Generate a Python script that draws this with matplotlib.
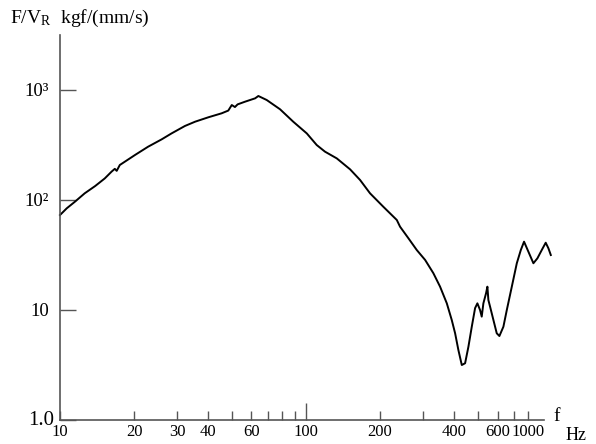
"""Mechanical impedance curve F/V_R vs frequency, log-log."""

import matplotlib

matplotlib.use("Agg")
import matplotlib.pyplot as plt
from matplotlib.ticker import FixedLocator, FixedFormatter, NullFormatter
from matplotlib.transforms import ScaledTranslation

plt.rcParams["font.family"] = ["Liberation Serif", "DejaVu Serif"]
plt.rcParams["mathtext.fontset"] = "stix"

# frequency (Hz) and impedance (kgf/(mm/s))
freq = [10, 10.65, 11.5, 12.6, 13.9, 15.2, 16.2, 16.7, 17.0, 17.5, 20.2, 22.8,
        25.9, 28.4, 32.2, 35.4, 40.1, 45.4, 48.3, 49.9, 51.4, 52.7, 56.5, 62.1,
        64, 69.2, 78.4, 88.7, 100.7, 110.5, 119.4, 133.3, 151, 165.8, 182, 206,
        233.8, 241, 260.6, 281.8, 304.8, 329.2, 350.5, 373.3, 391, 403.5, 416,
        429.5, 443, 457, 471.6, 486.4, 497, 509.5, 517.6, 525.7, 539, 545.8,
        550.9, 559.8, 577.4, 595.7, 610.7, 634, 654.5, 685.9, 718.7, 746.2,
        769.1, 801, 839.5, 871.5, 907.8, 942, 966, 988]
impedance = [73, 84, 96.5, 115, 134, 157, 181, 192, 184, 208, 257, 305,
             356, 403, 471, 515, 565, 614, 650, 730, 700, 740, 783, 840,
             882, 811, 668, 515, 403, 316, 275, 239, 190, 152, 115, 86.9,
             65.8, 57.2, 44.9, 35.1, 28.5, 21.6, 16.3, 11.5, 8.11, 6.14, 4.33,
             3.16, 3.28, 4.64, 7.05, 10.4, 11.5, 10, 8.7, 11.5, 14.2, 16.3,
             12.3, 10.7, 8.11, 6.14, 5.8, 7.05, 10, 16.3, 26.6, 35.1,
             41.8, 33.9, 26.6, 29.5, 35.1, 40.9, 36.4, 31.6]

x_major = [10, 20, 30, 40, 60, 100, 200, 400, 600, 800]
x_labels = ["10", "20", "30", "40", "60", "100", "200", "400", "600", "1000"]
x_minor = [50, 70, 80, 90, 300, 500, 700]
y_major = [1, 10, 100, 1000]
y_labels = ["1.0", "10", "10²", "10³"]

fig = plt.figure(figsize=(5.96, 4.44), dpi=100)
ax = fig.add_axes([60 / 596, 24 / 444, 484 / 596, 385 / 444])

ax.plot(freq, impedance, color="black", lw=1.4, clip_on=False)

ax.set_xscale("log")
ax.set_yscale("log")
ax.set_xlim(10, 927)
ax.set_ylim(1, 3162)

for side in ("top", "right"):
    ax.spines[side].set_visible(False)
for side in ("left", "bottom"):
    ax.spines[side].set_color("#555555")
    ax.spines[side].set_linewidth(1.2)

ax.xaxis.set_major_locator(FixedLocator(x_major))
ax.xaxis.set_major_formatter(FixedFormatter(x_labels))
ax.xaxis.set_minor_locator(FixedLocator(x_minor))
ax.xaxis.set_minor_formatter(NullFormatter())
ax.yaxis.set_major_locator(FixedLocator(y_major))
ax.yaxis.set_major_formatter(FixedFormatter(y_labels))
ax.yaxis.set_minor_locator(FixedLocator([]))

ax.tick_params(axis="x", which="both", direction="in", length=6.5, width=1,
               color="#555555", labelsize=12, pad=3)
ax.tick_params(axis="y", which="major", direction="in", length=11.5, width=1,
               color="#555555", labelsize=13.5, pad=8)
ax.xaxis.get_major_ticks()[5].tick1line.set_markersize(12)
lab = ax.yaxis.get_major_ticks()[0].label1
lab.set_fontsize(15)
lab.set_transform(lab.get_transform() + ScaledTranslation(4 / 72, 1.5 / 72, fig.dpi_scale_trans))

fig.text(10 / 596, 1 - 18 / 444, r"F/V$_{\mathregular{R}}$  kgf/(mm/s)",
         fontsize=14, va="center", ha="left")
fig.text(553 / 596, 1 - 416 / 444, "f", fontsize=14, va="center", ha="left")
fig.text(566 / 596, 1 - 435 / 444, "Hz", fontsize=13, va="center", ha="left")

fig.savefig("out.png", dpi=100)
